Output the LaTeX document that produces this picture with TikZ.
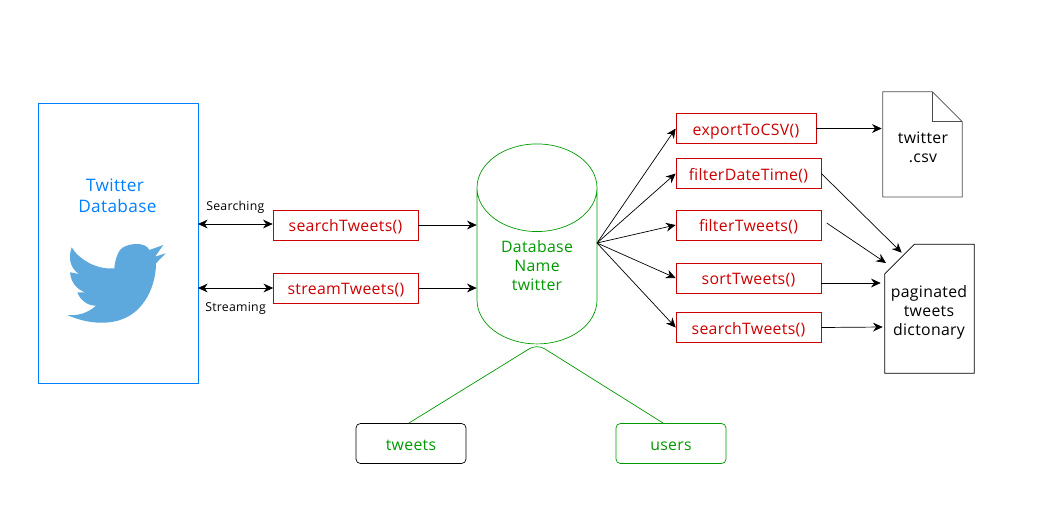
\documentclass[tikz,border=0pt]{standalone}
\usepackage{fontspec}
\setmainfont[LetterSpace=2]{Open Sans}
\usetikzlibrary{shapes.geometric,arrows.meta}
\definecolor{fnred}{HTML}{CC0000}
\definecolor{dbgreen}{HTML}{009900}
\definecolor{twblue}{HTML}{007FFF}
\definecolor{birdblue}{HTML}{5DA9DD}
\tikzset{
	func/.style={draw=fnred,text=fnred,minimum width=2.9cm,minimum height=.6cm,inner sep=0pt,text height=9pt,text depth=1.5pt,font=\fontsize{9}{10.8}\selectfont},
	table/.style={draw,rounded corners=2.5pt,text=dbgreen,minimum width=2.2cm,minimum height=.8cm,inner sep=0pt,text height=9.5pt,text depth=1.5pt,font=\fontsize{9}{10.8}\selectfont},
	plain/.style={align=center,inner sep=0pt,font=\fontsize{9}{10.8}\selectfont},
	small/.style={inner sep=0pt,font=\fontsize{7}{9}\selectfont},
}
\begin{document}
\begin{tikzpicture}[x=.02cm,y=-.02cm,>={Stealth[length=5.5pt,width=5pt]}]
	\useasboundingbox (0,0) rectangle (1041,525);
	% source
	\node[draw=twblue,minimum width=3.2cm,minimum height=5.6cm,inner sep=0pt] (twitter) at (118,243) {};
	\node[plain,text=twblue,font=\fontsize{9.8}{12}\selectfont] (twname) at (115,196) {Twitter\\\ Database};
	\fill[birdblue] (163.3,245) -- (149.3,250) .. controls (146,241) and (125,243) .. (120,250) .. controls (115,257) and (114.3,268.3) .. (114.3,268.3) .. controls (95,270) and (78,258) .. (71.7,247.3) .. controls (68,258) and (70,268) .. (79,274) -- (70,272.3) .. controls (71,282) and (76,289) .. (85,292.3) -- (77.3,292.3) .. controls (81,302) and (90,306) .. (96,305.7) .. controls (88,313) and (78,316) .. (67.3,315) .. controls (85,323) and (105,325) .. (120,320) .. controls (145,312) and (156,285) .. (156,263.3) -- (165.7,253.3) -- (155,256.7) -- cycle;
	% database
	\node[cylinder,shape border rotate=90,draw=dbgreen,text=dbgreen,plain,aspect=1.22,minimum width=2.4cm,minimum height=4cm] (db) at (537,266) {Database\\Name\\twitter};
	\node[func] (search) at (345.5,225) {searchTweets()};
	\node[func] (stream) at (346,288) {streamTweets()};
	\node[func,minimum width=2.8cm] (export) at (746,128.5) {exportToCSV()};
	\node[func] (filterdate) at (748.5,173.5) {filterDateTime()};
	\node[func] (filtertw) at (748.5,225) {filterTweets()};
	\node[func] (sort) at (748.5,278) {sortTweets()};
	\node[func] (searchb) at (748.5,327.5) {searchTweets()};
	\node[table] (tweets) at (411,443.5) {tweets};
	\node[table,draw=dbgreen] (users) at (671,443.5) {users};
	% files
	\draw[gray!60!black] (882.7,91.7) -- (932.3,91.7) -- (962.3,121.7) -- (962.3,197) -- (882.7,197) -- cycle;
	\draw[gray!60!black] (932.3,91.7) -- (932.3,121.7) -- (962.3,121.7);
	\draw (914.3,244.3) -- (974.3,244.3) -- (974.3,373.3) -- (884.7,373.3) -- (884.7,274) -- cycle;
	\node[plain] (csvname) at (923,147) {twitter\\.csv};
	\node[plain] (pagname) at (929,312) {paginated\\tweets\\dictonary};
	% free ends
	\coordinate (dbout) at (597,243);
	\coordinate (csvin) at (881.7,128.5);
	\coordinate (pagtop) at (901.7,252.7);
	\coordinate (pagmid) at (886,263);
	\coordinate (filtout) at (826.7,223);
	\coordinate (pagsort) at (880.7,283);
	\coordinate (pagsearch) at (882.7,327);
	\coordinate (apex) at (537,344);
	\coordinate (twsearch) at (198,224);
	\coordinate (twstream) at (198,288);
	% connectors
	\draw[<->] (twsearch) -- (twsearch -| search.west) node[small,midway,above=6pt] (searching) {Searching};
	\draw[<->] (twstream) -- (stream.west) node[small,midway,below=8pt] (streaming) {Streaming};
	\draw[->] (search.east) -- (search.east -| db.west);
	\draw[->] (stream.east) -- (stream.east -| db.west);
	\draw[->] (dbout) -- (export.west);
	\draw[->] (dbout) -- (filterdate.west);
	\draw[->] (dbout) -- (filtertw.west);
	\draw[->] (dbout) -- (sort.west);
	\draw[->] (dbout) -- (searchb.west);
	\draw[->] (export.east) -- (csvin);
	\draw[->] (filterdate.east) -- (pagtop);
	\draw[->] (filtout) -- (pagmid);
	\draw[->] (sort.east |- pagsort) -- (pagsort);
	\draw[->] (searchb.east) -- (pagsearch);
	\draw[dbgreen,rounded corners=5pt] (409,423) -- (apex) -- (663,423);
\end{tikzpicture}
\end{document}
